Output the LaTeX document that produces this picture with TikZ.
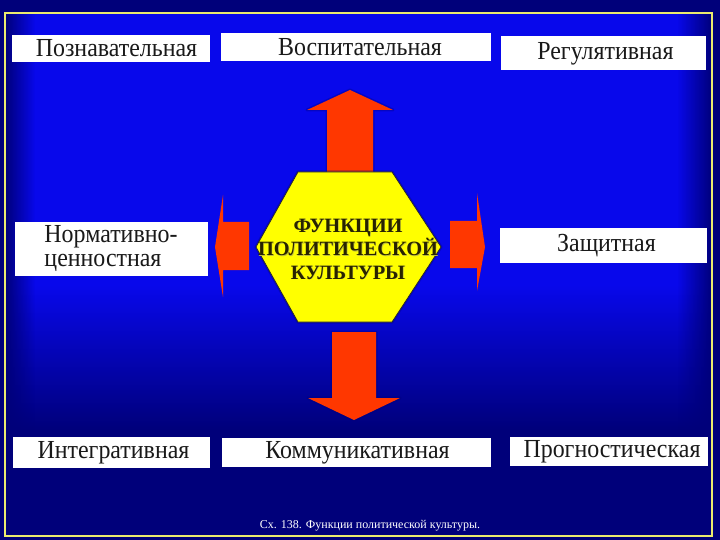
\documentclass[tikz,border=0pt]{standalone}
\usepackage{fontspec}
\setmainfont{Liberation Serif}
\newfontfamily\condserif[FakeStretch=0.92]{Liberation Serif}
\usetikzlibrary{fadings}
\definecolor{navyc}{RGB}{0,0,122}
\definecolor{brightb}{RGB}{8,8,235}
\definecolor{arrowred}{RGB}{255,55,0}
\definecolor{hexy}{RGB}{255,255,0}
\definecolor{bord}{RGB}{235,235,110}
\definecolor{hextext}{RGB}{40,35,0}
\definecolor{hexshadow}{RGB}{190,190,60}
\tikzfading[name=fadeR, left color=transparent!0, right color=transparent!100]
\tikzfading[name=fadeL, left color=transparent!100, right color=transparent!0]
\tikzset{
  fbox/.style={fill=white, inner sep=0pt, text=black!90, font=\condserif\fontsize{26}{26}\selectfont},
  tshift/.style={execute at begin node={\hspace*{#1}}},
  redarrow/.style={fill=arrowred},
  halo/.style={draw=navyc, line width=3pt, opacity=0.35, line join=round},
  hexlabel/.style={font=\bfseries\fontsize{20.3}{23.5}\selectfont, align=center},
}
\begin{document}
\begin{tikzpicture}[x=1pt,y=-1pt]
\useasboundingbox (0,0) rectangle (720,540);
% background
\fill[navyc] (0,0) rectangle (720,540);
\fill[brightb] (5,13) rectangle (712,285);
\shade[top color=brightb, bottom color=navyc] (5,285) rectangle (712,430);
\fill[navyc] (5,430) rectangle (712,536);
\fill[navyc, path fading=fadeR] (5,13) rectangle (35,536);
\fill[navyc, path fading=fadeL] (677,13) rectangle (712,536);
\draw[bord, line width=1.5pt] (5,13) rectangle (712,536);

% arrows
\path[halo] (327,172) -- (327,110) -- (307,110) -- (350,90) -- (393,110) -- (373,110) -- (373,172) -- cycle;
\fill[redarrow] (327,172) -- (327,110) -- (307,110) -- (350,90) -- (393,110) -- (373,110) -- (373,172) -- cycle;
\path[halo] (332,332) -- (332,398) -- (308,398) -- (354,420) -- (400,398) -- (376,398) -- (376,332) -- cycle;
\fill[redarrow] (332,332) -- (332,398) -- (308,398) -- (354,420) -- (400,398) -- (376,398) -- (376,332) -- cycle;
\fill[redarrow] (249,222) -- (223,222) -- (223,195) -- (215,247) -- (223,297) -- (223,270) -- (249,270) -- cycle;
\fill[redarrow] (450,221) -- (477,221) -- (477,193) -- (485,247) -- (477,291) -- (477,268) -- (450,268) -- cycle;

% hexagon
\path[halo] (298,172) -- (392,172) -- (441,247) -- (392,322) -- (298,322) -- (256,247) -- cycle;
\filldraw[fill=hexy, draw=black!85, line width=0.7pt] (298,172) -- (392,172) -- (441,247) -- (392,322) -- (298,322) -- (256,247) -- cycle;
\node[hexlabel, text=hexshadow] at (348.6,249.6) {ФУНКЦИИ\\ПОЛИТИЧЕСКОЙ\\КУЛЬТУРЫ};
\node[hexlabel, text=hextext] (center) at (348,249) {ФУНКЦИИ\\ПОЛИТИЧЕСКОЙ\\КУЛЬТУРЫ};

% boxes
\node[fbox, tshift=11pt, minimum width=198pt, minimum height=27pt] (p1) at (111,48.5) {Познавательная};
\node[fbox, tshift=8pt, minimum width=270pt, minimum height=28pt] (p2) at (356,47) {Воспитательная};
\node[fbox, tshift=5pt, minimum width=205pt, minimum height=34pt] (p3) at (603,53.5) {Регулятивная};
\node[fbox, minimum width=193pt, minimum height=53pt, align=left, font=\condserif\fontsize{26}{24}\selectfont] (p4) at (111,249) {Нормативно-\\ценностная};
\node[fbox, tshift=6pt, minimum width=207pt, minimum height=35pt] (p5) at (603.5,245.5) {Защитная};
\node[fbox, tshift=4pt, minimum width=197pt, minimum height=31pt] (p6) at (111.5,452.5) {Интегративная};
\node[fbox, tshift=2pt, minimum width=269pt, minimum height=29pt] (p7) at (356.5,452.5) {Коммуникативная};
\node[fbox, tshift=6pt, minimum width=198pt, minimum height=29pt] (p8) at (609,451.5) {Прогностическая};

% caption
\node[text=white, font=\fontsize{12}{14}\selectfont] (cap) at (370,526) {Сх. 138. Функции политической культуры.};
\end{tikzpicture}
\end{document}
